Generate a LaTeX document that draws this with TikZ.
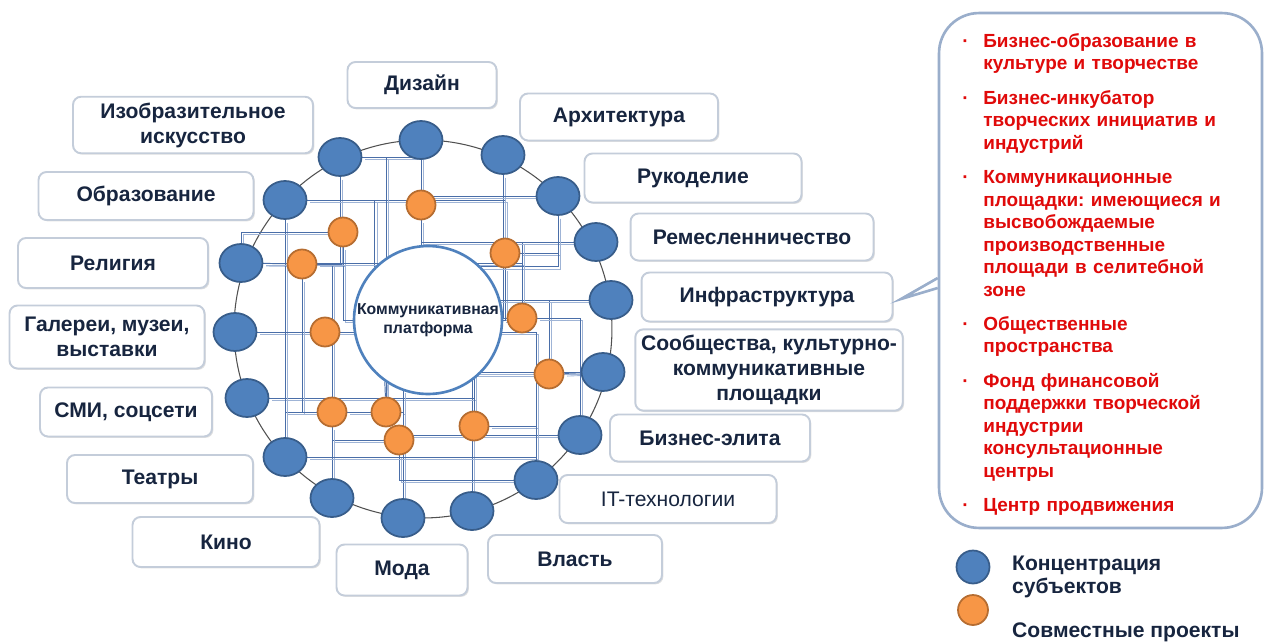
\documentclass[tikz,border=0pt]{standalone}
\usepackage{fontspec}
\setmainfont{Liberation Sans}
\usetikzlibrary{shapes.geometric,positioning,backgrounds,shadows}

\definecolor{subjfill}{HTML}{4F81BD}
\definecolor{subjline}{HTML}{385D8A}
\definecolor{projfill}{HTML}{F79646}
\definecolor{projline}{HTML}{B66D31}
\definecolor{meshblue}{HTML}{4A6EA8}
\definecolor{meshlight}{HTML}{9FB4D6}
\definecolor{ringgray}{HTML}{505050}
\definecolor{boxline}{HTML}{C4CDDA}
\definecolor{calloutline}{HTML}{9AAECB}
\definecolor{navy}{HTML}{17253F}
\definecolor{calloutred}{HTML}{E00A0A}

\frenchspacing
\newcommand{\bitem}[1]{\hangindent=0.42cm\hangafter=1\noindent\makebox[0.42cm][l]{·}#1\par}

\begin{document}
\begin{tikzpicture}[x=0.02cm, y=-0.02cm,
    subj/.style={ellipse, draw=subjline, fill=subjfill, line width=1pt,
        minimum width=0.86cm, minimum height=0.76cm, inner sep=0pt},
    proj/.style={circle, draw=projline, fill=projfill, line width=1pt,
        minimum size=0.58cm, inner sep=0pt},
    lbl/.style 2 args={rounded corners=0.16cm, draw=boxline, line width=1.1pt,
        fill=white, align=center, text=navy, minimum width=#1cm, minimum height=#2cm,
        font=\bfseries\fontsize{12}{14.2}\selectfont,
        drop shadow={shadow xshift=0.8pt, shadow yshift=-0.8pt, fill=black, opacity=0.12}},
    mesh/.style={draw=meshblue, line width=0.55pt,
        preaction={draw=meshlight, line width=0.5pt, transform canvas={shift={(1.5pt,-1.5pt)}}}},
    ]
    \useasboundingbox (0,0) rectangle (1277,642);

    % Platform
    \node[circle, draw=subjfill, fill=white, line width=1.5pt, minimum size=2.96cm,
        inner sep=0pt, align=center, text=navy, font=\bfseries\fontsize{9}{11}\selectfont]
        (platform) at (428,320) {Коммуникативная\\платформа};

    % Subjects
    \node[subj] (s1) at (421,140) {};
    \node[subj] (s2) at (503,155) {};
    \node[subj] (s3) at (558,196) {};
    \node[subj] (s4) at (596,242) {};
    \node[subj] (s5) at (611,300) {};
    \node[subj] (s6) at (603,372) {};
    \node[subj] (s7) at (580,435) {};
    \node[subj] (s8) at (536,480) {};
    \node[subj] (s9) at (472,511) {};
    \node[subj] (s10) at (403,518) {};
    \node[subj] (s11) at (332,498) {};
    \node[subj] (s12) at (285,457) {};
    \node[subj] (s13) at (247,398) {};
    \node[subj] (s14) at (235,332) {};
    \node[subj] (s15) at (241,263) {};
    \node[subj] (s16) at (285,200) {};
    \node[subj] (s17) at (340,157) {};

    % Projects
    \node[proj] (p1) at (421,205) {};
    \node[proj] (p2) at (343,232) {};
    \node[proj] (p3) at (302,264) {};
    \node[proj] (p4) at (505,253) {};
    \node[proj] (p5) at (325,332) {};
    \node[proj] (p6) at (522,318) {};
    \node[proj] (p7) at (549,374) {};
    \node[proj] (p8) at (332,412) {};
    \node[proj] (p9) at (386,412) {};
    \node[proj] (p10) at (399,440) {};
    \node[proj] (p11) at (474,426) {};

    % Ring and mesh
    \begin{scope}[on background layer]
    \node[circle, draw=ringgray, line width=0.6pt, minimum size=7.56cm] (ring) at (423,329) {};
    \draw[mesh] (s1) -- (p1);
    \draw[mesh] (p1) -- (p1 |- platform.north);
    \draw[mesh] (s14) -- (p5);
    \draw[mesh] (p5) -- (p5 -| platform.west);
    \draw[mesh] (s15) -- (p3);
    \draw[mesh] (p3) -| (p2);
    \draw[mesh] (s17) |- (p3);
    \draw[mesh] (s16) |- (p5);
    \draw[mesh] (s16) -| (p4);
    \draw[mesh] (s2) |- (p6);
    \draw[mesh] (s3) |- (p4);
    \draw[mesh] (s4) -| (p6);
    \draw[mesh] (s5) -| (p7);
    \draw[mesh] (p6) -- (p6 -| platform.east);
    \draw[mesh] (s6) -- (p7);
    \draw[mesh] (p7) -| (p11);
    \draw[mesh] (s7) -| (p10);
    \draw[mesh] (s8) |- (p11);
    \draw[mesh] (s9) |- (p7);
    \draw[mesh] (s10) |- (p9);
    \draw[mesh] (p9) -- (platform.235);
    \draw[mesh] (s13) -| (p11);
    \draw[mesh] (s12) |- (p8);
    \draw[mesh] (p8) -- (p9);
    \draw[mesh] (s11) |- (p10);
    \draw[mesh] (s11) -- (p8);
    \draw[mesh] (s12) -| (p10);
    \draw[mesh] (p4) |- (platform.east);
    \draw[mesh] (p2) |- (platform.west);
    \draw[mesh] (s15) -| (p8);
    \draw[mesh] (s3) -| (p1);
    \draw[mesh] (s14) -| (s8);
    \draw[mesh] (s6) -| (p9);
    \draw[mesh] (s17) -| (p1);
    \draw[mesh] (s4) -| (p1);
    \draw[mesh] (s16) -| (platform.north west);
    \draw[mesh] (s15) |- (p2);
    \draw[mesh] (s12) |- (p5);
    \draw[mesh] (s10) -- (s10 |- platform.250);
    \draw[mesh] (s8) -| (p10);
    \draw[mesh] (s7) |- (p6);
    \draw[mesh] (s5) -| (p11);
    \draw[mesh] (s3) |- (platform.north east);
    \draw[mesh] (s17) -| (p9);
    \draw[mesh] (p3) |- (p8);
    \draw[mesh] (s15) -| (p6);
    \draw[mesh] (s12) -| (s8);
    \end{scope}

    % Labels
    \node[lbl={2.98}{0.92}] (l1) at (422,85) {Дизайн};
    \node[lbl={3.96}{0.94}] (l2) at (619,117) {Архитектура};
    \node[lbl={4.34}{0.98}] (l3) at (693,178) {Рукоделие};
    \node[lbl={4.86}{0.94}] (l4) at (752,237) {Ремесленничество};
    \node[lbl={5.02}{0.98}] (l5) at (767,297) {Инфраструктура};
    \node[lbl={5.24}{1.52}] (l6) at (769,370) {Сообщества, культурно-\\коммуникативные\\площадки};
    \node[lbl={4.0}{0.94}] (l7) at (710,438) {Бизнес-элита};
    \node[lbl={4.34}{0.96}, font=\mdseries\fontsize{12}{14.2}\selectfont] (l8) at (668,499) {IT-технологии};
    \node[lbl={3.48}{0.96}] (l9) at (575,559) {Власть};
    \node[lbl={2.62}{1.02}] (l10) at (402,570) {Мода};
    \node[lbl={3.74}{1.0}] (l11) at (226,542) {Кино};
    \node[lbl={3.72}{0.96}] (l12) at (160,479) {Театры};
    \node[lbl={3.44}{0.98}] (l13) at (126,412) {СМИ, соцсети};
    \node[lbl={3.9}{1.26}] (l14) at (107,337) {Галереи, музеи,\\выставки};
    \node[lbl={3.8}{1.0}] (l15) at (113,263) {Религия};
    \node[lbl={4.3}{0.96}] (l16) at (146,196) {Образование};
    \node[lbl={4.8}{1.08}] (l17) at (193,125) {Изобразительное\\искусство};

    % Callout
    \node[draw=calloutline, line width=1.5pt, fill=white, rounded corners=0.8cm,
        minimum width=6.46cm, minimum height=10.3cm] (cbox) at (1100.5,270.5) {};
    \coordinate (tip) at (901,299);
    \draw[draw=calloutline, line width=1.5pt] ([yshift=-0.15cm]cbox.west) -- (tip)
        -- ([yshift=-0.35cm]cbox.west);
    \node[anchor=north west, inner sep=0pt, text width=5.9cm, align=left, text=calloutred,
        font=\bfseries\fontsize{10.8}{12.8}\selectfont] (ctext) at (962,33) {%
        \setlength{\parskip}{6.8pt}%
        \bitem{Бизнес-образование в\newline культуре и творчестве}
        \bitem{Бизнес-инкубатор\newline творческих инициатив и\newline индустрий}
        \bitem{Коммуникационные\newline площадки: имеющиеся и\newline высвобождаемые\newline производственные\newline площади в селитебной\newline зоне}
        \bitem{Общественные\newline пространства}
        \bitem{Фонд финансовой\newline поддержки творческой\newline индустрии\newline консультационные\newline центры}
        \bitem{Центр продвижения}};

    % Legend
    \node[circle, draw=subjline, fill=subjfill, line width=1pt, minimum size=0.66cm,
        inner sep=0pt] (key1) at (973,567) {};
    \node[circle, draw=projline, fill=projfill, line width=1pt, minimum size=0.6cm,
        inner sep=0pt] (key2) at (973,610) {};
    \node[anchor=west, align=left, text=navy, font=\bfseries\fontsize{12}{13}\selectfont]
        (keytext1) at (1006,577) {Концентрация\\субъектов};
    \node[anchor=west, text=navy, font=\bfseries\fontsize{12}{13}\selectfont]
        (keytext2) at (1006,632) {Совместные проекты};
\end{tikzpicture}
\end{document}
